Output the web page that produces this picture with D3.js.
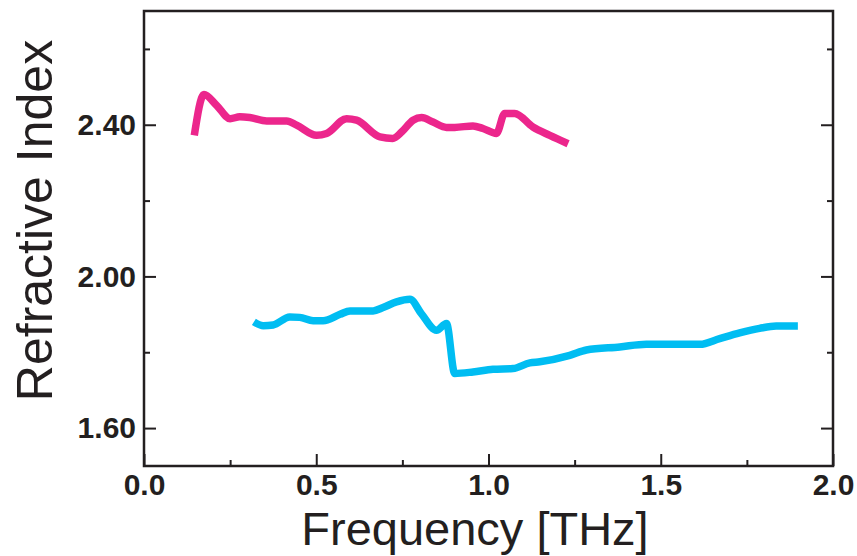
<!DOCTYPE html>
<html>
<head>
<meta charset="utf-8">
<script src="https://cdn.jsdelivr.net/npm/d3@7"></script>
<style>
  html, body { margin: 0; padding: 0; background: #fff; }
  svg { display: block; }
  text { font-family: "Liberation Sans", Arial, Helvetica, sans-serif; fill: #231f20; }
</style>
</head>
<body>
<svg id="chart" width="857" height="556"></svg>
<script>
// Frequency (THz) and refractive index for the two samples
const pinkFreq = [0.146, 0.174, 0.211, 0.250, 0.278, 0.307, 0.356, 0.414, 0.443, 0.501, 0.530, 0.588, 0.617, 0.685, 0.722, 0.748, 0.781, 0.806, 0.839, 0.878, 0.902, 0.955, 0.984, 1.023, 1.047, 1.076, 1.129, 1.178, 1.231];
const pinkIndex = [2.372, 2.480, 2.451, 2.416, 2.421, 2.419, 2.410, 2.410, 2.399, 2.372, 2.377, 2.416, 2.412, 2.368, 2.364, 2.381, 2.412, 2.419, 2.407, 2.393, 2.393, 2.397, 2.390, 2.377, 2.430, 2.430, 2.394, 2.372, 2.350];

const cyanFreq = [0.319, 0.346, 0.375, 0.423, 0.452, 0.491, 0.520, 0.569, 0.598, 0.665, 0.694, 0.733, 0.772, 0.805, 0.849, 0.878, 0.902, 0.955, 1.013, 1.071, 1.120, 1.149, 1.236, 1.284, 1.381, 1.458, 1.614, 1.671, 1.729, 1.787, 1.835, 1.898];
const cyanIndex = [1.880, 1.870, 1.872, 1.893, 1.892, 1.883, 1.883, 1.900, 1.909, 1.909, 1.918, 1.933, 1.940, 1.902, 1.858, 1.876, 1.744, 1.748, 1.755, 1.757, 1.772, 1.775, 1.792, 1.806, 1.814, 1.821, 1.821, 1.836, 1.851, 1.863, 1.869, 1.869];

const xMajorTicks = [0, 0.5, 1.0, 1.5, 2.0];
const xMinorTicks = [0.25, 0.75, 1.25, 1.75];
const yMajorTicks = [1.6, 2.0, 2.4];
const yMinorTicks = [1.8, 2.2, 2.6];

const xTitle = "Frequency [THz]";
const yTitle = "Refractive Index";

const svg = d3.select("#chart");
const margin = { left: 144, right: 24, top: 11, bottom: 90 };
const W = 857, H = 556;

const x = d3.scaleLinear().domain([0, 2]).range([margin.left, W - margin.right]);
const y = d3.scaleLinear().domain([1.5, 2.7]).range([H - margin.bottom, margin.top]);

const axisColor = "#231f20";

// series, lightly smoothed
const line = d3.line().x(d => x(d[0])).y(d => y(d[1])).curve(d3.curveMonotoneX);
const series = [
  { f: pinkFreq, n: pinkIndex, color: "#ec268c" },
  { f: cyanFreq, n: cyanIndex, color: "#00bdf2" }
];
series.forEach(s => {
  svg.append("path")
    .datum(s.f.map((f, i) => [f, s.n[i]]))
    .attr("d", line)
    .attr("fill", "none")
    .attr("stroke", s.color)
    .attr("stroke-width", 7.5)
    .attr("stroke-linejoin", "round")
    .attr("stroke-linecap", "butt");
});

// bottom axis (ticks point inward)
const xAxis = d3.axisBottom(x).tickValues(xMajorTicks).tickSize(-12).tickPadding(8).tickFormat(d3.format(".1f"));
const gx = svg.append("g").attr("transform", `translate(0,${y(1.5)})`).call(xAxis);
gx.select(".domain").remove();
gx.selectAll(".tick line").attr("stroke", axisColor).attr("stroke-width", 2);
gx.selectAll(".tick text").attr("font-size", 30).attr("font-weight", "bold").attr("fill", axisColor);
const gxMinor = svg.append("g").attr("transform", `translate(0,${y(1.5)})`)
  .call(d3.axisBottom(x).tickValues(xMinorTicks).tickSize(-6).tickFormat(""));
gxMinor.select(".domain").remove();
gxMinor.selectAll(".tick line").attr("stroke", axisColor).attr("stroke-width", 2);

// left axis
const yAxis = d3.axisLeft(y).tickValues(yMajorTicks).tickSize(-12).tickPadding(8).tickFormat(d3.format(".2f"));
const gy = svg.append("g").attr("transform", `translate(${x(0)},0)`).call(yAxis);
gy.select(".domain").remove();
gy.selectAll(".tick line").attr("stroke", axisColor).attr("stroke-width", 2);
gy.selectAll(".tick text").attr("font-size", 30).attr("font-weight", "bold").attr("fill", axisColor);
const gyMinor = svg.append("g").attr("transform", `translate(${x(0)},0)`)
  .call(d3.axisLeft(y).tickValues(yMinorTicks).tickSize(-6).tickFormat(""));
gyMinor.select(".domain").remove();
gyMinor.selectAll(".tick line").attr("stroke", axisColor).attr("stroke-width", 2);

// right axis mirror ticks
const gr = svg.append("g").attr("transform", `translate(${x(2)},0)`)
  .call(d3.axisRight(y).tickValues(yMajorTicks).tickSize(-12).tickFormat(""));
gr.select(".domain").remove();
gr.selectAll(".tick line").attr("stroke", axisColor).attr("stroke-width", 2);
const grMinor = svg.append("g").attr("transform", `translate(${x(2)},0)`)
  .call(d3.axisRight(y).tickValues(yMinorTicks).tickSize(-6).tickFormat(""));
grMinor.select(".domain").remove();
grMinor.selectAll(".tick line").attr("stroke", axisColor).attr("stroke-width", 2);

// frame
svg.append("rect")
  .attr("x", x(0)).attr("y", y(2.7))
  .attr("width", x(2) - x(0)).attr("height", y(1.5) - y(2.7))
  .attr("fill", "none").attr("stroke", axisColor).attr("stroke-width", 2.5);

// axis titles
svg.append("text")
  .attr("x", 475).attr("y", 545)
  .attr("text-anchor", "middle")
  .attr("font-size", 47)
  .attr("fill", axisColor)
  .text(xTitle);

svg.append("text")
  .attr("transform", `translate(52,${(y(1.5) + y(2.7)) / 2 - 18}) rotate(-90)`)
  .attr("text-anchor", "middle")
  .attr("font-size", 50)
  .attr("fill", axisColor)
  .text(yTitle);
</script>
</body>
</html>
